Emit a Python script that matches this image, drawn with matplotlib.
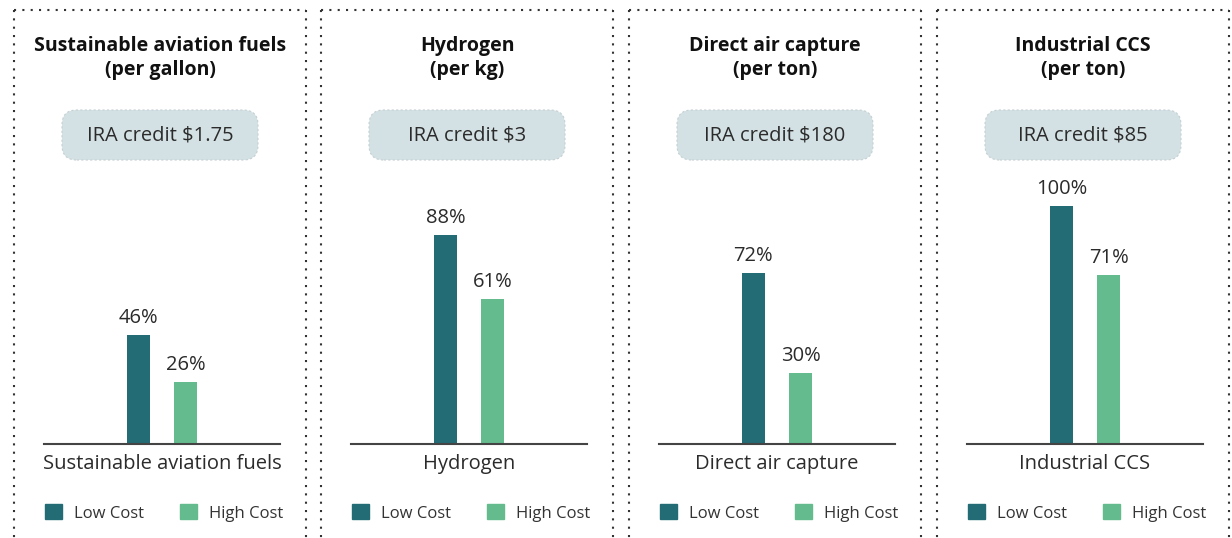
import matplotlib.pyplot as plt
from matplotlib.patches import FancyBboxPatch, Patch
from matplotlib.lines import Line2D
import numpy as np

plt.rcParams['font.family'] = ['Open Sans', 'DejaVu Sans']

categories = ['Sustainable aviation fuels', 'Hydrogen', 'Direct air capture', 'Industrial CCS']
units = ['(per gallon)', '(per kg)', '(per ton)', '(per ton)']
credits = ['$1.75', '$3', '$180', '$85']
low_cost = [46, 88, 72, 100]
high_cost = [26, 61, 30, 71]
series = ['Low Cost', 'High Cost']

c_low = '#236b75'
c_high = '#64bc8e'
txt = '#2b2b2b'

W, H = 1232, 538
fig = plt.figure(figsize=(W/100, H/100), dpi=100)

def fx(px):
    return px / W

def fy(py):
    return 1 - py / H

panel_left = [14, 321, 629, 937]
pw = 292
dot = dict(color='#333333', lw=1.5, ls=(0, (1, 3)), transform=fig.transFigure)

for i, cat in enumerate(categories):
    L = panel_left[i]
    cx = L + pw / 2

    # dotted panel frame (top, left, right)
    fig.add_artist(Line2D([fx(L), fx(L + pw)], [fy(10), fy(10)], **dot))
    fig.add_artist(Line2D([fx(L), fx(L)], [fy(10), fy(H)], **dot))
    fig.add_artist(Line2D([fx(L + pw), fx(L + pw)], [fy(10), fy(H)], **dot))

    # title
    fig.text(fx(cx), fy(46), cat, ha='center', va='center', fontsize=14,
             fontweight='bold', color='#111111')
    fig.text(fx(cx), fy(70), units[i], ha='center', va='center', fontsize=14,
             fontweight='bold', color='#111111')

    # credit box
    box = FancyBboxPatch((fx(cx - 98), fy(160)), fx(196), 50 / H,
                         boxstyle='round,pad=0,rounding_size=0.012',
                         transform=fig.transFigure, facecolor='#d4e1e4',
                         edgecolor='#c4d0d3', lw=0.8, ls=(0, (2, 2)),
                         mutation_aspect=W / H)
    fig.add_artist(box)
    fig.text(fx(cx), fy(135), 'IRA credit \\' + credits[i], ha='center', va='center',
             fontsize=14.5, color=txt)

    # bars
    ax = fig.add_axes([fx(L + 30), fy(444), fx(236), 238 / H])
    x = np.arange(1)
    b1 = ax.bar(x - 0.1, [low_cost[i]], width=0.1, color=c_low)
    b2 = ax.bar(x + 0.1, [high_cost[i]], width=0.1, color=c_high)
    for bars, vals in ((b1, [low_cost[i]]), (b2, [high_cost[i]])):
        for r, v in zip(bars, vals):
            ax.annotate('%d%%' % v, (r.get_x() + r.get_width() / 2, v),
                        xytext=(0, 5), textcoords='offset points',
                        ha='center', va='bottom', fontsize=14.5, color=txt,
                        annotation_clip=False)
    ax.set_xlim(-0.5, 0.5)
    ax.set_ylim(0, 100)
    ax.set_xticks(x)
    ax.set_xticklabels([cat], fontsize=14.5, color=txt)
    ax.tick_params(axis='x', length=0, pad=7)
    ax.set_yticks([])
    for s in ['top', 'left', 'right']:
        ax.spines[s].set_visible(False)
    ax.spines['bottom'].set_color('#444444')
    ax.spines['bottom'].set_linewidth(1.5)
    ax.patch.set_alpha(0)

    handles = [Patch(color=c_low), Patch(color=c_high)]
    ax.legend(handles, series, loc='center', bbox_to_anchor=(fx(cx + 4), fy(513)),
              bbox_transform=fig.transFigure, ncol=2, frameon=False,
              fontsize=12, handlelength=1.0, handleheight=1.0,
              handletextpad=0.7, columnspacing=2.2, labelcolor='#333333')

plt.savefig('out.png', dpi=100)
